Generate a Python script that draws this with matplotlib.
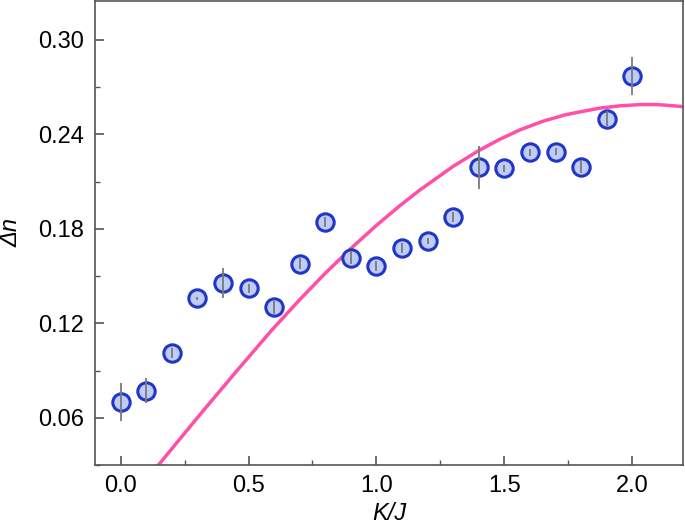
import matplotlib.pyplot as plt
import numpy as np
from matplotlib.ticker import MultipleLocator

plt.rcParams['font.family'] = ['Liberation Sans', 'DejaVu Sans']

# measured points
kj = [0.0, 0.1, 0.2, 0.3, 0.4, 0.5, 0.6, 0.7, 0.8, 0.9, 1.0,
      1.1, 1.2, 1.3, 1.4, 1.5, 1.6, 1.7, 1.8, 1.9, 2.0]
dn = [0.0700, 0.0773, 0.1010, 0.1359, 0.1454, 0.1422, 0.1302, 0.1578, 0.1844, 0.1616, 0.1565,
      0.1679, 0.1722, 0.1876, 0.2190, 0.2184, 0.2285, 0.2291, 0.2195, 0.2500, 0.2770]
dn_err = [0.0122, 0.0078, 0.0030, 0.0010, 0.0095, 0.0030, 0.0040, 0.0035, 0.0030, 0.0040, 0.0030,
          0.0030, 0.0020, 0.0030, 0.0135, 0.0020, 0.0020, 0.0025, 0.0040, 0.0050, 0.0122]

# theory curve
kj_th = [0.149, 0.30, 0.45, 0.59, 0.70, 0.80, 0.90, 1.00, 1.09, 1.17, 1.30,
         1.40, 1.48, 1.56, 1.65, 1.74, 1.87, 1.95, 2.03, 2.10, 2.20]
dn_th = [0.0302, 0.0600, 0.0890, 0.1155, 0.1350, 0.1518, 0.1675, 0.1822, 0.1945, 0.2047, 0.2197,
         0.2297, 0.2367, 0.2428, 0.2483, 0.2525, 0.2566, 0.2581, 0.2589, 0.2589, 0.2576]

fig = plt.figure(figsize=(6.85, 5.29), dpi=100)
ax = fig.add_axes([0.1387, 0.121, 0.8591, 0.878])

ax.plot(kj_th, dn_th, color='#ff4fa8', lw=2.5, zorder=1)

ax.plot(kj, dn, 'o', ms=12.5, mfc='#c0ccf8', mec='#1f36c8', mew=2.2, zorder=2)
ax.errorbar(kj, dn, yerr=dn_err, fmt='none', ecolor='#7a7a7a', elinewidth=1.3,
            capsize=0, zorder=3)

ax.set_xlim(-0.1, 2.2)
ax.set_ylim(0.030, 0.325)
ax.xaxis.set_major_locator(MultipleLocator(0.5))
ax.xaxis.set_minor_locator(MultipleLocator(0.25))
ax.yaxis.set_major_locator(MultipleLocator(0.06))
ax.yaxis.set_minor_locator(MultipleLocator(0.03))
ax.xaxis.set_major_formatter(plt.FormatStrFormatter('%.1f'))
ax.yaxis.set_major_formatter(plt.FormatStrFormatter('%.2f'))

for s in ax.spines.values():
    s.set_color('#555555')
    s.set_linewidth(1.2)
ax.tick_params(which='major', direction='in', length=6.5, width=1.2, color='#555555',
               labelsize=17)
ax.tick_params(axis='y', which='major', pad=8)
ax.tick_params(axis='x', which='major', pad=7)
ax.tick_params(which='minor', direction='in', length=3.6, width=1.0, color='#555555')

ax.set_xlabel('K/J', fontsize=17, fontstyle='italic', labelpad=4)
ax.set_ylabel('Δn', fontsize=17, fontstyle='italic', labelpad=11)

plt.savefig('out.png', dpi=100)
